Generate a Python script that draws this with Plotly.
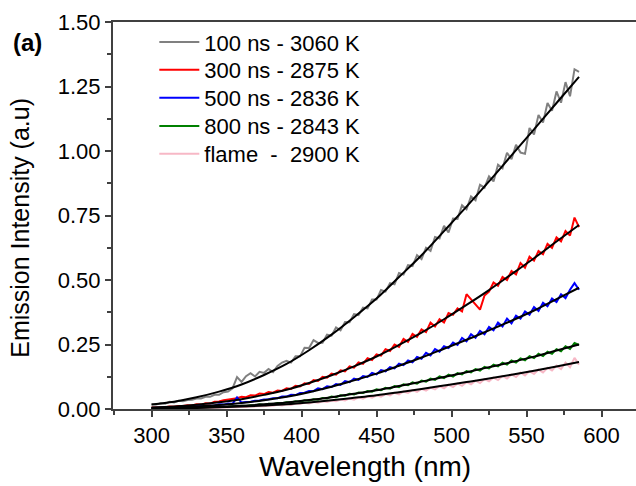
import plotly.graph_objects as go

# ---------------- data ----------------
wl = [300, 303, 306, 309, 312, 315, 318, 321, 324, 327,
      330, 333, 336, 339, 342, 345, 348, 351, 354, 357,
      360, 363, 366, 369, 372, 375, 378, 381, 384, 387,
      390, 393, 396, 399, 402, 405, 408, 411, 414, 417,
      420, 423, 426, 429, 432, 435, 438, 441, 444, 447,
      450, 453, 456, 459, 462, 465, 468, 471, 474, 477,
      480, 483, 486, 489, 492, 495, 498, 501, 504, 507,
      510, 513, 516, 519, 522, 525, 528, 531, 534, 537,
      540, 543, 546, 549, 552, 555, 558, 561, 564, 567,
      570, 573, 576, 579, 582, 585]

ns100 = [.018, .017, .022, .020, .028, .025, .032, .030, .035, .036,
         .041, .041, .047, .047, .055, .055, .065, .068, .080, .124,
         .105, .127, .139, .126, .144, .140, .155, .143, .167, .180,
         .187, .180, .204, .204, .237, .236, .267, .256, .257, .288,
         .284, .316, .305, .337, .336, .368, .364, .393, .390, .424,
         .424, .461, .455, .488, .483, .527, .521, .558, .554, .596,
         .581, .625, .613, .667, .661, .710, .684, .738, .737, .790,
         .774, .824, .809, .869, .858, .902, .882, .947, .933, .993,
         .968, 1.024, .994, .989, 1.089, 1.064, 1.140, 1.110, 1.186, 1.156,
         1.231, 1.187, 1.267, 1.212, 1.317, 1.307]

ns300 = [.006, .006, .008, .007, .010, .009, .012, .012, .015, .014,
         .018, .017, .022, .021, .028, .029, .034, .036, .040, .042,
         .047, .046, .053, .052, .060, .058, .066, .063, .072, .070,
         .080, .078, .090, .087, .100, .097, .112, .109, .125, .121,
         .137, .133, .150, .146, .165, .160, .181, .175, .197, .190,
         .212, .207, .232, .225, .250, .241, .272, .260, .291, .280,
         .309, .298, .335, .320, .348, .335, .372, .365, .390, .378,
         .445, .425, .405, .385, .440, .455, .490, .478, .512, .500,
         .535, .522, .566, .548, .590, .575, .612, .600, .640, .625,
         .665, .650, .690, .672, .742, .705]

ns500 = [.004, .004, .005, .005, .006, .006, .007, .008, .008, .010,
         .010, .012, .012, .015, .014, .018, .017, .021, .020, .045,
         .025, .027, .028, .032, .033, .037, .038, .042, .042, .048,
         .048, .055, .054, .062, .063, .070, .069, .080, .077, .088,
         .085, .097, .093, .108, .104, .118, .113, .128, .124, .140,
         .134, .151, .146, .162, .157, .176, .170, .188, .181, .202,
         .195, .218, .208, .232, .222, .243, .236, .258, .248, .275,
         .262, .290, .276, .303, .290, .318, .305, .335, .320, .350,
         .332, .362, .350, .378, .365, .395, .380, .412, .398, .428,
         .415, .445, .430, .462, .488, .462]

ns800 = [.002, .002, .003, .002, .003, .003, .004, .004, .005, .004,
         .006, .005, .007, .006, .008, .008, .010, .009, .011, .010,
         .013, .012, .015, .014, .018, .016, .020, .019, .023, .022,
         .026, .025, .030, .028, .034, .032, .038, .036, .043, .041,
         .048, .046, .053, .051, .059, .056, .064, .062, .070, .067,
         .076, .073, .082, .079, .089, .085, .096, .092, .103, .098,
         .110, .106, .118, .113, .126, .120, .133, .126, .139, .134,
         .147, .142, .155, .149, .163, .157, .172, .165, .180, .172,
         .188, .180, .196, .189, .205, .197, .214, .205, .222, .214,
         .232, .224, .243, .233, .256, .248]

flame = [.001, .002, .002, .002, .002, .002, .003, .003, .003, .003,
         .004, .004, .005, .004, .006, .005, .007, .006, .008, .007,
         .009, .008, .011, .010, .012, .011, .014, .013, .016, .014,
         .018, .016, .021, .019, .024, .021, .027, .024, .030, .027,
         .033, .030, .037, .033, .041, .036, .045, .040, .049, .044,
         .053, .048, .058, .053, .063, .057, .068, .062, .073, .066,
         .078, .071, .083, .076, .089, .080, .094, .085, .099, .090,
         .104, .096, .110, .101, .116, .107, .122, .112, .128, .118,
         .134, .124, .141, .130, .147, .136, .153, .142, .160, .149,
         .168, .155, .180, .162, .198, .172]

# Fitted (Planck) curves, read on a 15 nm grid
wl_fit = [300, 315, 330, 345, 360, 375, 390, 405, 420, 435,
          450, 465, 480, 495, 510, 525, 540, 555, 570, 585]
fit100 = [.0175, .0285, .0452, .0673, .0952, .1318, .1745, .2278, .2881, .3556,
          .428, .5115, .596, .6895, .7842, .882, .983, 1.084, 1.186, 1.287]
fit300 = [.0060, .0101, .0168, .0260, .0382, .0548, .0744, .1005, .1308, .1653,
          .2034, .2481, .2958, .3478, .4034, .4610, .5224, .5845, .6490, .7130]
fit500 = [.0035, .0063, .0101, .0159, .0234, .0340, .0472, .0653, .0863, .1111,
          .1370, .1675, .1994, .2336, .2684, .3050, .3420, .3817, .4257, .4700]
fit800 = [.0019, .0034, .0054, .0085, .0124, .0181, .0251, .0347, .0459, .0591,
          .0729, .0891, .1061, .1243, .1428, .1623, .1819, .2031, .2265, .2500]
fitflame = [.0015, .0026, .0041, .0064, .0093, .0134, .0185, .0255, .0336, .0432,
            .0533, .0651, .0775, .0908, .1043, .1185, .1330, .1485, .1650, .1820]

labels = ["100 ns - 3060 K", "300 ns - 2875 K", "500 ns - 2836 K",
          "800 ns - 2843 K", "flame\u00a0\u00a0-\u00a0\u00a02900 K"]
colors = ["#808080", "#ff0000", "#0000ff", "#008000", "#f7b8c6"]
series = [ns100, ns300, ns500, ns800, flame]
fits = [fit100, fit300, fit500, fit800, fitflame]

x_ticks = [300, 350, 400, 450, 500, 550, 600]
y_ticks = [0.0, 0.25, 0.5, 0.75, 1.0, 1.25, 1.5]

FONT = "Arial, 'Liberation Sans', sans-serif"

legend_names = ["legend", "legend2", "legend3", "legend4", "legend5"]
legend_rows = [0.948, 0.876, 0.804, 0.731, 0.659]   # vertical place of each legend row

fig = go.Figure()
for lab, col, ys, lg in zip(labels, colors, series, legend_names):
    fig.add_trace(go.Scatter(x=wl, y=ys, mode="lines", name=lab, legend=lg,
                             line=dict(color=col, width=2)))
for f in fits:
    fig.add_trace(go.Scatter(x=wl_fit, y=f, mode="lines", showlegend=False,
                             line=dict(color="black", width=2, shape="spline"),
                             hoverinfo="skip"))

axis_common = dict(
    showgrid=False, zeroline=False, showline=True, linecolor="#404040",
    linewidth=2, ticks="outside", ticklen=6, tickwidth=1.5, tickcolor="#404040",
    tickfont=dict(family=FONT, size=22, color="black"),
)

fig.update_xaxes(**axis_common, range=[274.3, 623], tickvals=x_ticks,
                 ticktext=[str(v) for v in x_ticks], mirror=True,
                 minor=dict(ticks="outside", ticklen=4, tickwidth=1.5,
                            tickcolor="#404040", dtick=25, tick0=275))
fig.update_yaxes(**axis_common, range=[0, 1.5], tickvals=y_ticks,
                 ticktext=[f"{v:.2f}" for v in y_ticks],
                 minor=dict(ticks="outside", ticklen=4, tickwidth=1.5,
                            tickcolor="#404040", dtick=0.125, tick0=0))

legend_layout = {}
for lg, yrow in zip(legend_names, legend_rows):
    legend_layout[lg] = dict(x=0.079, y=yrow, xanchor="left", yanchor="middle",
                             bgcolor="rgba(0,0,0,0)", borderwidth=0,
                             font=dict(family=FONT, size=22, color="black"),
                             itemwidth=40)

fig.update_layout(
    width=636, height=486,
    margin=dict(l=113, r=0, t=22, b=77),
    paper_bgcolor="white", plot_bgcolor="white",
    font=dict(family=FONT, color="black"),
    showlegend=True,
    annotations=[
        dict(text="<b>(a)</b>", xref="paper", yref="paper", x=-0.195, y=0.948,
             xanchor="left", yanchor="middle", showarrow=False,
             font=dict(family=FONT, size=24, color="black")),
        dict(text="Emission Intensity (a.u)", xref="paper", yref="paper",
             x=-0.178, y=0.468, xanchor="center", yanchor="middle",
             textangle=-90, showarrow=False,
             font=dict(family=FONT, size=25, color="black")),
        dict(text="Wavelength (nm)", xref="paper", yref="paper",
             x=0.482, y=-0.148, xanchor="center", yanchor="middle",
             showarrow=False,
             font=dict(family=FONT, size=28, color="black")),
    ],
    **legend_layout,
)

fig.write_html("out.html")
